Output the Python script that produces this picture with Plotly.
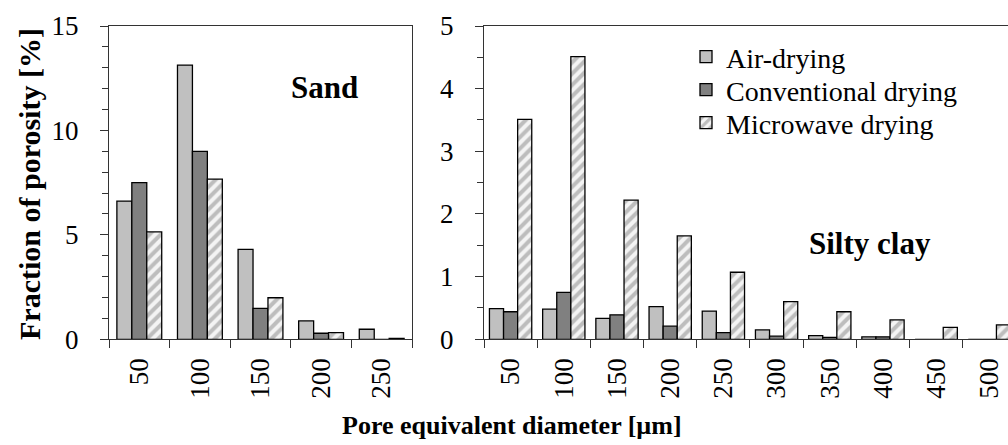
import plotly.graph_objects as go

# ---------------- data ----------------
sand_cats = ["50", "100", "150", "200", "250"]
sand_air = [6.62, 13.13, 4.31, 0.88, 0.48]
sand_conv = [7.50, 9.00, 1.48, 0.29, 0.0]
sand_micro = [5.14, 7.67, 1.99, 0.32, 0.04]

clay_cats = ["50", "100", "150", "200", "250", "300", "350", "400", "450", "500"]
clay_air = [0.49, 0.48, 0.335, 0.52, 0.45, 0.15, 0.06, 0.04, 0.0, 0.0]
clay_conv = [0.44, 0.75, 0.39, 0.21, 0.105, 0.05, 0.03, 0.04, 0.0, 0.0]
clay_micro = [3.51, 4.51, 2.22, 1.65, 1.07, 0.60, 0.44, 0.31, 0.19, 0.23]

series_names = ["Air-drying", "Conventional drying", "Microwave drying"]

W, H = 1008, 445
FONT = "Liberation Serif"

def px_x(p):
    return p / W

def px_y(p):
    return 1 - p / H

fig = go.Figure()

line = dict(color="black", width=1.3)
styles = [
    dict(color="#c0c0c0", line=line),
    dict(color="#808080", line=line),
    dict(color="white", line=line,
         pattern=dict(shape="/", fgcolor="#858585", bgcolor="#f4f4f4", size=8, solidity=0.5)),
]
legend_ids = ["legend", "legend2", "legend3"]

# Sand panel
sw = 0.74 / 3
for i, (name, vals) in enumerate(zip(series_names, [sand_air, sand_conv, sand_micro])):
    fig.add_trace(go.Bar(x=sand_cats, y=vals, name=name, marker=styles[i],
                         width=sw, offset=-0.37 + i * sw,
                         xaxis="x", yaxis="y", showlegend=False))

# Silty clay panel
cw = 0.795 / 3
for i, (name, vals) in enumerate(zip(series_names, [clay_air, clay_conv, clay_micro])):
    fig.add_trace(go.Bar(x=clay_cats, y=vals, name=name, marker=styles[i],
                         width=cw, offset=-0.3975 + i * cw,
                         xaxis="x2", yaxis="y2", showlegend=True,
                         legend=legend_ids[i]))

tickfont = dict(family=FONT, size=27, color="black")
axline = dict(showline=True, linecolor="#333333", linewidth=1.3, automargin=False)

y_dom = [px_y(339.3), px_y(26)]

leg_common = dict(x=px_x(686), xanchor="left", yanchor="middle",
                  font=dict(family=FONT, size=28, color="black"),
                  bgcolor="rgba(0,0,0,0)", itemwidth=30, borderwidth=0)

fig.update_layout(
    width=W, height=H,
    margin=dict(l=0, r=0, t=0, b=0, autoexpand=False),
    paper_bgcolor="white", plot_bgcolor="white",
    font=dict(family=FONT, color="black"),
    xaxis=dict(domain=[px_x(109), px_x(412)], type="category", range=[-0.5, 4.5],
               tickson="boundaries", ticks="outside", ticklen=8, tickcolor="#333333",
               tickangle=-90, tickfont=tickfont, mirror=True, showgrid=False,
               ticklabelstandoff=7, anchor="y", **axline),
    yaxis=dict(domain=y_dom, range=[0, 15], tickvals=[0, 5, 10, 15],
               ticks="outside", ticklen=8, tickcolor="#333333", tickfont=tickfont,
               minor=dict(dtick=1, ticks="outside", ticklen=6, tickcolor="#333333"),
               mirror=True, showgrid=False, zeroline=False, anchor="x",
               ticklabelstandoff=16, **axline),
    xaxis2=dict(domain=[px_x(484), 1.0], type="category", range=[-0.5, 9.35],
                tickson="boundaries", ticks="outside", ticklen=8, tickcolor="#333333",
                tickangle=-90, tickfont=tickfont, mirror=True, showgrid=False,
                ticklabelstandoff=7, anchor="y2", **axline),
    yaxis2=dict(domain=y_dom, range=[0, 5], tickvals=[0, 1, 2, 3, 4, 5],
                ticks="outside", ticklen=8, tickcolor="#333333", tickfont=tickfont,
                minor=dict(dtick=0.5, ticks="outside", ticklen=6, tickcolor="#333333"),
                mirror=False, showgrid=False, zeroline=False, anchor="x2",
                ticklabelstandoff=16, **axline),
    showlegend=True,
    legend=dict(y=px_y(57), **leg_common),
    legend2=dict(y=px_y(90), **leg_common),
    legend3=dict(y=px_y(123), **leg_common),
    annotations=[
        dict(text="<b>Fraction of porosity [%]</b>", x=px_x(29), y=px_y(184),
             xref="paper", yref="paper", showarrow=False, textangle=-90,
             font=dict(family=FONT, size=30, color="black"),
             xanchor="center", yanchor="middle"),
        dict(text="<b>Pore equivalent diameter [µm]</b>", x=px_x(512), y=px_y(425),
             xref="paper", yref="paper", showarrow=False,
             font=dict(family=FONT, size=26, color="black"),
             xanchor="center", yanchor="middle"),
        dict(text="<b>Sand</b>", x=px_x(324), y=px_y(87),
             xref="paper", yref="paper", showarrow=False,
             font=dict(family=FONT, size=31, color="black"),
             xanchor="center", yanchor="middle"),
        dict(text="<b>Silty clay</b>", x=px_x(870), y=px_y(243),
             xref="paper", yref="paper", showarrow=False,
             font=dict(family=FONT, size=31, color="black"),
             xanchor="center", yanchor="middle"),
    ],
)

fig.write_html("out.html", config={"displayModeBar": False},
               post_script="document.body.style.margin='0';")
